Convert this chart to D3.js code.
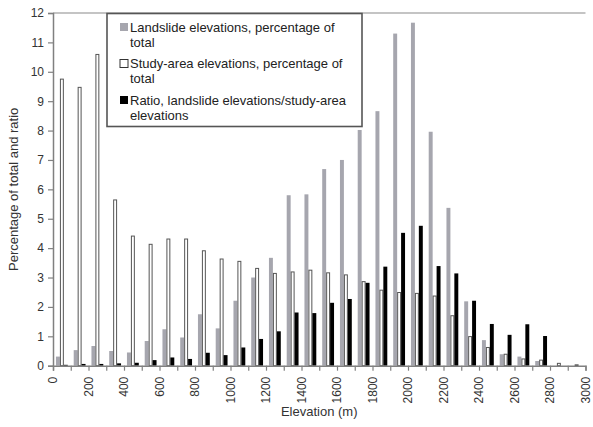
<!DOCTYPE html>
<html>
<head>
<meta charset="utf-8">
<script src="https://cdn.jsdelivr.net/npm/d3@7"></script>
<style>
  html, body { margin: 0; padding: 0; background: #fff; }
  svg { display: block; font-family: "Liberation Sans", Arial, sans-serif; }
</style>
</head>
<body>
<svg id="chart" width="593" height="427"></svg>
<script>
// Elevation bins, 100 m wide, starting at these lower bounds (m)
const binStarts = [0, 100, 200, 300, 400, 500, 600, 700, 800, 900,
  1000, 1100, 1200, 1300, 1400, 1500, 1600, 1700, 1800, 1900,
  2000, 2100, 2200, 2300, 2400, 2500, 2600, 2700, 2800, 2900];

// Landslide elevations, percentage of total
const landslidePct = [0.31, 0.53, 0.67, 0.50, 0.45, 0.84, 1.24, 0.96, 1.75, 1.27,
  2.21, 3.00, 3.67, 5.80, 5.83, 6.69, 7.00, 8.02, 8.66, 11.30,
  11.67, 7.96, 5.37, 2.19, 0.87, 0.39, 0.31, 0.16, 0.00, 0.00];

// Study-area elevations, percentage of total
const studyAreaPct = [9.75, 9.47, 10.59, 5.64, 4.41, 4.13, 4.31, 4.31, 3.91, 3.63,
  3.55, 3.31, 3.14, 3.19, 3.25, 3.16, 3.09, 2.86, 2.57, 2.49,
  2.46, 2.37, 1.70, 0.99, 0.62, 0.39, 0.23, 0.19, 0.08, 0.03];

// Ratio, landslide elevations / study-area elevations
const ratio = [0.03, 0.06, 0.06, 0.08, 0.10, 0.19, 0.28, 0.23, 0.44, 0.36,
  0.62, 0.91, 1.17, 1.81, 1.79, 2.14, 2.27, 2.82, 3.37, 4.52,
  4.76, 3.39, 3.14, 2.21, 1.42, 1.05, 1.41, 1.01, 0.00, 0.00];

const yTicks = [0, 1, 2, 3, 4, 5, 6, 7, 8, 9, 10, 11, 12];
const xLabelTicks = [0, 200, 400, 600, 800, 1000, 1200, 1400, 1600, 1800,
  2000, 2200, 2400, 2600, 2800, 3000];

const legendLines = [
  ["Landslide elevations, percentage of", "total"],
  ["Study-area elevations, percentage of", "total"],
  ["Ratio, landslide elevations/study-area", "elevations"]
];
const seriesValues = [landslidePct, studyAreaPct, ratio];

const fills = ["#a6a6ae", "#ffffff", "#000000"];
const strokes = ["none", "#555555", "none"];

const W = 593, H = 427;
const margin = { top: 13, right: 7.5, bottom: 61.3, left: 53 };
const iw = W - margin.left - margin.right;
const ih = H - margin.top - margin.bottom;

const svg = d3.select("#chart");
const g = svg.append("g").attr("transform", `translate(${margin.left},${margin.top})`);

const x = d3.scaleLinear().domain([0, 3000]).range([0, iw]);
const y = d3.scaleLinear().domain([0, 12]).range([ih, 0]);

const binW = x(100) - x(0);
// clustered bars, 50% gap between clusters
const inner = d3.scaleBand()
  .domain(d3.range(seriesValues.length))
  .range([binW * 0.25 / 1.5, binW - binW * 0.25 / 1.5]);

// plot frame top
g.append("line")
  .attr("x1", 0).attr("x2", iw).attr("y1", 0).attr("y2", 0)
  .attr("stroke", "#8a8a8a").attr("stroke-width", 1.2);

// bars
const rows = binStarts.map((b, i) => ({ b, vals: seriesValues.map(s => s[i]) }));
const binG = g.selectAll("g.bin").data(rows).join("g")
  .attr("class", "bin")
  .attr("transform", d => `translate(${x(d.b)},0)`);

binG.selectAll("rect")
  .data(d => d.vals.map((v, k) => ({ v, k })))
  .join("rect")
  .attr("x", d => inner(d.k) + (d.k === 1 ? 0.5 : 0))
  .attr("width", d => inner.bandwidth() - (d.k === 1 ? 1 : 0))
  .attr("y", d => y(d.v))
  .attr("height", d => Math.max(0, y(0) - y(d.v)))
  .attr("fill", d => fills[d.k])
  .attr("stroke", d => strokes[d.k])
  .attr("stroke-width", 1);

// y axis
const yAxis = g.append("g")
  .call(d3.axisLeft(y).tickValues(yTicks).tickFormat(d3.format("d")).tickSize(5).tickPadding(4));
yAxis.select(".domain").attr("stroke", "#808080").attr("stroke-width", 1.5);
yAxis.selectAll(".tick line").attr("stroke", "#808080").attr("stroke-width", 1.2);
yAxis.selectAll(".tick text").attr("fill", "#333").style("font-size", "12px")
  .style("font-family", "'Liberation Sans', Arial, sans-serif");

// x axis: tick at every bin boundary, labels every 200 m
const xAxis = g.append("g")
  .attr("transform", `translate(0,${ih})`)
  .call(d3.axisBottom(x).tickValues(d3.range(0, 3001, 100)).tickSize(5).tickFormat(() => ""));
xAxis.select(".domain").attr("stroke", "#808080").attr("stroke-width", 1.5);
xAxis.selectAll(".tick line").attr("stroke", "#808080").attr("stroke-width", 1.2);

g.append("g").selectAll("text")
  .data(xLabelTicks)
  .join("text")
  .attr("transform", d => `translate(${x(d) + 4.2},${ih + 11}) rotate(-90)`)
  .attr("text-anchor", "end")
  .attr("fill", "#333")
  .style("font-size", "12px")
  .text(d => d);

// axis titles
svg.append("text")
  .attr("x", margin.left + x(1500))
  .attr("y", 416)
  .attr("text-anchor", "middle")
  .attr("fill", "#333")
  .style("font-size", "13px")
  .text("Elevation (m)");

svg.append("text")
  .attr("transform", `translate(18,${margin.top + ih / 2}) rotate(-90)`)
  .attr("text-anchor", "middle")
  .attr("fill", "#333")
  .style("font-size", "13px")
  .text("Percentage of total and ratio");

// legend
const lg = svg.append("g").attr("transform", "translate(107,13.5)");
lg.append("rect")
  .attr("x", 0).attr("y", 0).attr("width", 255).attr("height", 113)
  .attr("fill", "#fff").attr("stroke", "#555").attr("stroke-width", 1.6);

const entry = lg.selectAll("g.entry").data(legendLines).join("g")
  .attr("class", "entry")
  .attr("transform", (d, i) => `translate(0,${18 + i * 36.5})`);
entry.append("rect")
  .attr("x", 13).attr("y", -8.5).attr("width", 8).attr("height", 8)
  .attr("fill", (d, i) => fills[i])
  .attr("stroke", (d, i) => i === 1 ? "#333" : "none")
  .attr("stroke-width", 1);
entry.append("text")
  .attr("x", 23)
  .attr("fill", "#222")
  .style("font-size", "13px")
  .selectAll("tspan").data(d => d).join("tspan")
  .attr("x", 23)
  .attr("dy", (d, j) => j === 0 ? 0 : 15)
  .text(d => d);
</script>
</body>
</html>
